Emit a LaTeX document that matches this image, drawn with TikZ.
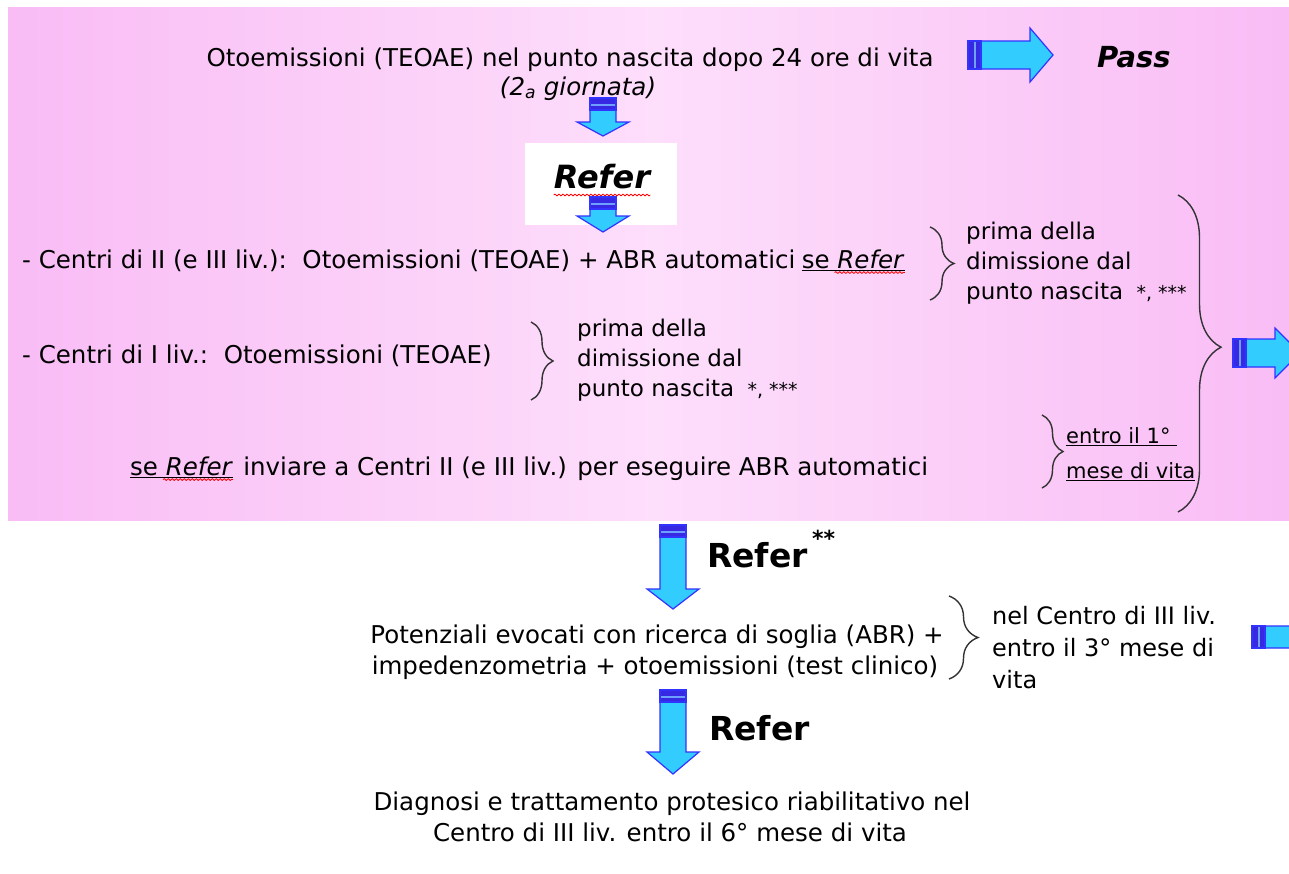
\documentclass[tikz,border=0pt]{standalone}
\usepackage{fontspec}
\setmainfont{DejaVu Sans}
\usetikzlibrary{positioning,decorations.pathreplacing,decorations.pathmorphing}

\definecolor{pinkbg}{RGB}{249,188,245}
\definecolor{pinklt}{RGB}{253,222,251}
\definecolor{arrowfill}{RGB}{51,204,255}
\definecolor{arrowline}{RGB}{51,51,255}
\definecolor{arrowdark}{RGB}{55,40,225}
\definecolor{arrowlight}{RGB}{110,160,255}

\tikzset{
  txt/.style={inner sep=0pt, font=\fontsize{24.5}{29}\selectfont},
  note/.style={inner sep=0pt, align=left, font=\fontsize{23}{30}\selectfont},
  bigword/.style={inner sep=0pt, font=\fontsize{33}{40}\selectfont\bfseries},
  curly/.style={decorate, decoration={brace, amplitude=#1}, line width=1.4pt, draw=black!80},
  wave/.style={decorate, decoration={snake, amplitude=0.9pt, segment length=4pt}, draw=red, line width=0.8pt},
  arrowbody/.style={fill=arrowfill, draw=arrowline, line width=1.2pt}
}
\newcommand{\stars}{{\fontsize{19}{30}\selectfont\ *, ***}}

% block arrow pointing down: centre x, top y, head base y, tip y
\newcommand{\blockdown}[4]{%
  \filldraw[arrowbody] (#1-13,#2) -- (#1+13,#2) -- (#1+13,#3) -- (#1+26,#3) -- (#1,#4)
    -- (#1-26,#3) -- (#1-13,#3) -- cycle;
  \filldraw[fill=arrowdark, draw=arrowline, line width=1.2pt] (#1-13,#2) rectangle (#1+13,#2+12);
  \fill[arrowlight] (#1-12,#2+6) rectangle (#1+12,#2+8);
}
% block arrow pointing right: tail x, centre y, head base x, tip x, half shaft, half head
\newcommand{\blockright}[6]{%
  \filldraw[arrowbody] (#1,#2-#5) -- (#3,#2-#5) -- (#3,#2-#6) -- (#4,#2) -- (#3,#2+#6)
    -- (#3,#2+#5) -- (#1,#2+#5) -- cycle;
  \filldraw[fill=arrowdark, draw=arrowline, line width=1.2pt] (#1,#2-#5) rectangle (#1+13,#2+#5);
  \fill[arrowlight] (#1+6,#2-#5+1) rectangle (#1+8,#2+#5-1);
}

\begin{document}
\begin{tikzpicture}[x=1pt, y=-1pt]
\clip (0,0) rectangle (1289,873);
\fill[white] (0,0) rectangle (1289,873);

% pink panel
\shade[left color=pinkbg, right color=pinkbg, middle color=pinklt] (8,7) rectangle (1300,520);
\fill[white] (525,143) rectangle (677,225);

% newborn screening
\node[txt, anchor=base] (teoae) at (570,66) {Otoemissioni (TEOAE) nel punto nascita dopo 24 ore di vita};
\node[txt, anchor=base] (day) at (578,95) {\textit{(2\textsubscript{a} giornata)}};
\blockright{968}{55}{1030}{1053}{14}{27}
\node[bigword, font=\fontsize{29}{36}\selectfont\bfseries\itshape, anchor=base west] (pass) at (1097,67) {Pass};

\blockdown{603}{98}{122}{136}
\node[bigword, font=\fontsize{32}{40}\selectfont\bfseries\itshape, anchor=base] (refer) at (602,188) {Refer};
\draw[wave] ([yshift=-7pt]refer.base west) -- ([yshift=-7pt]refer.base east);
\blockdown{603}{197}{216}{232}

% second step
\node[txt, anchor=base west] (lvtwo) at (22,268) {- Centri di II (e III liv.):\ \ Otoemissioni (TEOAE) + ABR automatici};
\node[txt, anchor=base west, xshift=6pt] (lvtwose) at (lvtwo.base east) {\underline{se \textit{Refer}}};
\draw[wave] ([xshift=33pt, yshift=-2pt]lvtwose.south west) -- ([yshift=-2pt]lvtwose.south east);
\draw[curly=24] (930,227) -- (930,300);
\node[note, anchor=west] (dimtwo) at (966,263) {prima della\\dimissione dal\\punto nascita \stars};

\node[txt, anchor=base west] (lvone) at (22,363) {- Centri di I liv.:\ \ Otoemissioni (TEOAE)};
\draw[curly=22] (531,322) -- (531,400);
\node[note, anchor=west] (dimone) at (577,360) {prima della\\dimissione dal\\punto nascita \stars};

\node[txt, anchor=base west] (sendse) at (130,475) {\underline{se \textit{Refer}}};
\draw[wave] ([xshift=33pt, yshift=-2pt]sendse.south west) -- ([yshift=-2pt]sendse.south east);
\node[txt, anchor=base west, xshift=10pt] (send) at (sendse.base east) {inviare a Centri II (e III liv.) per eseguire ABR automatici};
\draw[curly=21] (1042,415) -- (1042,488);
\node[note, anchor=base west, font=\fontsize{21}{35}\selectfont] (month) at (1066,478) {\underline{entro il 1°\hspace{6pt}}\\\underline{mese di vita}};

\draw[curly=43, decoration={aspect=0.48}] (1178,195) -- (1178,512);
\blockright{1233}{353}{1275}{1300}{14}{25}

% third step
\blockdown{673}{525}{589}{609}
\node[bigword, anchor=base west] (refertwo) at (707,567) {Refer};
\node[inner sep=0pt, font=\fontsize{22}{22}\selectfont\bfseries, anchor=base west] (stars) at (812,546) {**};

\node[txt, anchor=base] (abr) at (657,643) {Potenziali evocati con ricerca di soglia (ABR) +};
\node[txt, anchor=base] (imp) at (655,674) {impedenzometria + otoemissioni (test clinico)};
\draw[curly=29] (949,596) -- (949,679);
\node[note, anchor=west, font=\fontsize{24}{32}\selectfont] (third) at (992,648) {nel Centro di III liv.\\entro il 3° mese di\\vita};
\blockright{1252}{637}{1310}{1330}{11}{22}

% diagnosis
\blockdown{673}{690}{752}{774}
\node[bigword, anchor=base west] (referthree) at (709,740) {Refer};

\node[txt, anchor=base] (diag) at (672,810) {Diagnosi e trattamento protesico riabilitativo nel};
\node[txt, anchor=base] (six) at (670,841) {Centro di III liv. entro il 6° mese di vita};
\end{tikzpicture}
\end{document}
